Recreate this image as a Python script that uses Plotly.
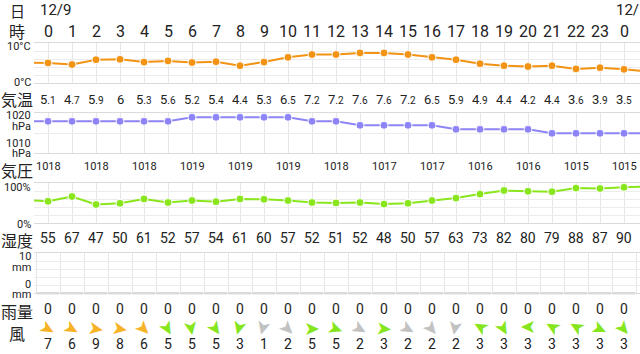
import plotly.graph_objects as go

W, H = 640, 354

# ---------------- data ----------------
hour_labels = ["0", "1", "2", "3", "4", "5", "6", "7", "8", "9", "10", "11",
               "12", "13", "14", "15", "16", "17", "18", "19", "20", "21", "22", "23", "0"]
date_labels = {0: "12/9", 24: "12/10"}

temp = [5.1, 4.7, 5.9, 6, 5.3, 5.6, 5.2, 5.4, 4.4, 5.3, 6.5, 7.2,
        7.2, 7.6, 7.6, 7.2, 6.5, 5.9, 4.9, 4.4, 4.2, 4.4, 3.6, 3.9, 3.5]
temp_prev, temp_next = 5.2, 3.0

pressure = [1018, 1018, 1018, 1018, 1018, 1018, 1019, 1019, 1019, 1019, 1019, 1018,
            1018, 1017, 1017, 1017, 1017, 1016, 1016, 1016, 1016, 1015, 1015, 1015, 1015]
pressure_prev, pressure_next = 1018, 1015

humidity = [55, 67, 47, 50, 61, 52, 57, 54, 61, 60, 57, 52,
            51, 52, 48, 50, 57, 63, 73, 82, 80, 79, 88, 87, 90]
humidity_prev, humidity_next = 58, 92

rain = [0] * 25

wind_speed = [7, 6, 9, 8, 6, 5, 5, 5, 3, 1, 2, 5,
              5, 2, 3, 2, 2, 2, 3, 3, 3, 3, 3, 3, 3]
# direction the arrow tip points, degrees clockwise from up
wind_angle = [120, 120, 100, 100, 135, 150, 170, 145, 195, 195, 135, 90,
              110, 120, 95, 120, 140, 190, 300, 150, 270, 300, 300, 115, 140]

# ---------------- helpers ----------------
def py(p):
    return 1 - p / H

def px(p):
    return p / W

n = len(temp)
xs = list(range(n))
x_ext = [-1] + xs + [n]
x_left = (34 - 48) / 24
x_right = (640 - 48) / 24

C_TEMP = "#f39314"
C_PRES = "#8c84f7"
C_HUM = "#8ae61c"
C_TXT = "#222222"
GRID = "#e6e6e6"
NUM_FONT = "Roboto, 'Noto Sans', sans-serif"
JP_FONT = "'Noto Sans CJK JP', sans-serif"

fig = go.Figure()

panels = [
    # (suffix, top px, bottom px, range, dtick, xtick0)
    ("", 43.3, 83.3, [0, 10], 2, 0),
    ("2", 113.3, 153.3, [1010, 1020], 5, 0),
    ("3", 183.3, 223.3, [0, 100], 20, 0),
    ("4", 253.3, 293.3, [0, 10], 2, 0.5),
]

layout = dict(
    width=W, height=H, margin=dict(l=0, r=0, t=0, b=0),
    paper_bgcolor="white", plot_bgcolor="white", showlegend=False,
    hovermode=False,
)
for suf, top, bot, rng, dt, t0 in panels:
    layout["xaxis" + suf] = dict(
        domain=[px(34), 1], range=[x_left, x_right], anchor="y" + suf,
        showgrid=True, gridcolor=GRID, gridwidth=1, tick0=t0, dtick=1,
        showticklabels=False, ticks="", zeroline=False,
        showline=True, mirror=True, linecolor="#dadada", linewidth=1, fixedrange=True)
    layout["yaxis" + suf] = dict(
        domain=[py(bot), py(top)], range=rng, anchor="x" + suf,
        showgrid=True, gridcolor="#ececec", gridwidth=1, tick0=rng[0], dtick=dt,
        showticklabels=False, ticks="", zeroline=False, showline=False, fixedrange=True)
fig.update_layout(**layout)

def series(x, y, color, xa, ya):
    fig.add_trace(go.Scatter(
        x=x, y=y, mode="lines+markers", xaxis=xa, yaxis=ya,
        line=dict(color=color, width=2),
        marker=dict(color=color, size=8, line=dict(color="white", width=1))))

series(x_ext, [temp_prev] + temp + [temp_next], C_TEMP, "x", "y")
series(x_ext, [pressure_prev] + pressure + [pressure_next], C_PRES, "x2", "y2")
series(x_ext, [humidity_prev] + humidity + [humidity_next], C_HUM, "x3", "y3")

fig.add_trace(go.Scatter(
    x=xs, y=rain, mode="markers", xaxis="x4", yaxis="y4", cliponaxis=False,
    marker=dict(symbol="line-ew", size=16, color="#cccccc",
                line=dict(color="#cccccc", width=2))))

def wind_color(s):
    if s >= 6:
        return "#f6b327"
    if s >= 3:
        return "#86e61e"
    return "#c2c2c2"

ann = []

def txt(x, y, text, size, xref="x", xanchor="center", family=NUM_FONT, color=C_TXT, angle=0):
    ann.append(dict(x=x, y=py(y), xref=xref, yref="paper", text=text, showarrow=False,
                    xanchor=xanchor, yanchor="middle", textangle=angle,
                    font=dict(size=size, family=family, color=color)))

# row headers
txt(px(17), 11, "日", 15, xref="paper", family=JP_FONT)
txt(px(17), 31, "時", 16, xref="paper", family=JP_FONT)
txt(px(17), 99, "気温", 16, xref="paper", family=JP_FONT)
txt(px(17), 170, "気圧", 16, xref="paper", family=JP_FONT)
txt(px(17), 240, "湿度", 16, xref="paper", family=JP_FONT)
txt(px(17), 311, "雨量", 16, xref="paper", family=JP_FONT)
txt(px(17), 333, "風", 16, xref="paper", family=JP_FONT)

# axis labels
AX = 11
txt(px(33), 46, "10°C", AX, xref="paper", xanchor="right")
txt(px(33), 82.5, "0°C", AX, xref="paper", xanchor="right")
txt(px(33), 115.5, "1020", AX, xref="paper", xanchor="right")
txt(px(33), 126.5, "hPa", AX, xref="paper", xanchor="right")
txt(px(33), 143, "1010", AX, xref="paper", xanchor="right")
txt(px(33), 153.5, "hPa", AX, xref="paper", xanchor="right")
txt(px(33), 187.5, "100%", AX, xref="paper", xanchor="right")
txt(px(33), 224, "0%", AX, xref="paper", xanchor="right")
txt(px(33), 256.5, "10", AX, xref="paper", xanchor="right")
txt(px(33), 267, "mm", AX, xref="paper", xanchor="right")
txt(px(33), 284, "0", AX, xref="paper", xanchor="right")
txt(px(33), 294, "mm", AX, xref="paper", xanchor="right")

for i in xs:
    if i in date_labels:
        txt(i - 10 / 24, 10, date_labels[i], 15, xanchor="left")
    txt(i, 31, hour_labels[i], 16)
    t = temp[i]
    if float(t).is_integer():
        s = str(int(t))
    else:
        whole, frac = ("%.1f" % t).split(".")
        s = whole + "<span style='font-size:10px'>." + frac + "</span>"
    txt(i, 99.5, s, 13)
    if i % 2 == 0:
        txt(i, 166, str(pressure[i]), 11)
    txt(i, 238, str(humidity[i]), 14)
    txt(i, 309, str(rain[i]), 14)
    txt(i, 328, "➤", 19, family="DejaVu Sans", color=wind_color(wind_speed[i]),
        angle=wind_angle[i] - 90)
    txt(i, 343.5, str(wind_speed[i]), 14)

fig.update_layout(annotations=ann)
fig.write_html("out.html")
